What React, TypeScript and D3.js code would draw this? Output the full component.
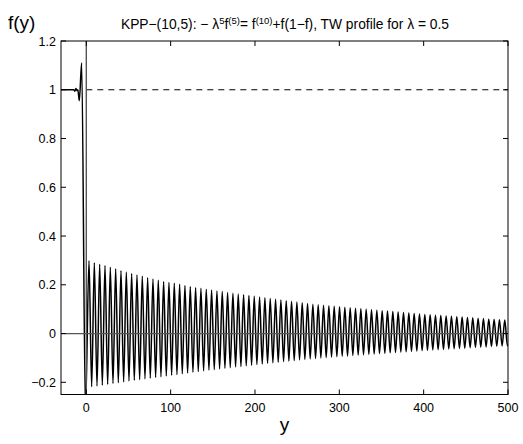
import React from "react";
import * as d3 from "d3";

// ---- data ----
const X_TICKS = [0, 100, 200, 300, 400, 500];
const Y_TICKS = [-0.2, 0, 0.2, 0.4, 0.6, 0.8, 1, 1.2];

// leading part of the profile (y < 0), points [y, f]
const leadY = [-30, -15, -13.6, -12.4, -11.2, -10, -8.3, -5.5, -1.0];
const leadF = [1, 1, 0.994, 1.005, 0.997, 1.0, 0.955, 1.11, -0.32];

// oscillating tail: crest and trough heights, one per oscillation
const firstCrestY = 3.2;
const oscPeriod = 6.32;
const crestF = [
  0.299, 0.29, 0.284, 0.279, 0.272, 0.266, 0.259, 0.252, 0.246, 0.24, 0.235,
  0.229, 0.224, 0.219, 0.214, 0.21, 0.206, 0.202, 0.197, 0.193, 0.189,
  0.186, 0.182, 0.179, 0.175, 0.172, 0.168, 0.165, 0.162, 0.159, 0.156, 0.153,
  0.15, 0.147, 0.144, 0.141, 0.138, 0.135, 0.132, 0.129, 0.126, 0.123, 0.12,
  0.118, 0.116, 0.114, 0.112, 0.11, 0.108, 0.106, 0.104, 0.102, 0.1, 0.098,
  0.096, 0.094, 0.092, 0.09, 0.088, 0.086, 0.084, 0.082, 0.08,
  0.078, 0.077, 0.075, 0.074, 0.072, 0.071, 0.069, 0.068, 0.066, 0.065, 0.063,
  0.062, 0.06, 0.059, 0.057, 0.056,
];
const troughF = [
  -0.218, -0.215, -0.212, -0.209, -0.205, -0.202, -0.199, -0.195, -0.192,
  -0.189, -0.186, -0.183, -0.18, -0.177, -0.174, -0.171, -0.168, -0.165,
  -0.162, -0.159, -0.156,
  -0.153, -0.15, -0.148, -0.145, -0.142, -0.14, -0.137, -0.135, -0.132, -0.13,
  -0.127, -0.125, -0.122, -0.12, -0.118, -0.115, -0.113, -0.111, -0.108,
  -0.106, -0.104, -0.102,
  -0.1, -0.098, -0.097, -0.095, -0.093, -0.092, -0.09, -0.088, -0.087, -0.085,
  -0.084, -0.082, -0.081, -0.079, -0.078, -0.076, -0.075, -0.073, -0.072,
  -0.07,
  -0.069, -0.067, -0.066, -0.065, -0.063, -0.062, -0.061, -0.06, -0.058,
  -0.057, -0.056, -0.055, -0.053, -0.052, -0.051, -0.05,
];
const endPoint = [500, -0.049];

// ---- layout ----
const W = 523;
const H = 444;
const L = 61;
const R = 508;
const T = 41;
const B = 394.5;
const FONT = "'Liberation Sans', Arial, Helvetica, sans-serif";

export default function App() {
  const x = d3.scaleLinear().domain([-30, 500]).range([L, R]);
  const y = d3.scaleLinear().domain([-0.25, 1.2]).range([B, T]);

  const pts: [number, number][] = [];
  leadY.forEach((v, i) => pts.push([v, leadF[i]]));
  crestF.forEach((c, k) => {
    const yc = firstCrestY + oscPeriod * k;
    pts.push([yc, c]);
    pts.push([yc + oscPeriod / 2, troughF[k]]);
  });
  pts.push([endPoint[0], endPoint[1]]);

  const line = d3
    .line<[number, number]>()
    .x((d) => x(d[0]))
    .y((d) => y(d[1]))
    .curve(d3.curveMonotoneX);

  const fmtY = (v: number) => {
    const s = d3.format("")(Math.round(v * 10) / 10);
    return s.replace("-", "\u2212");
  };

  const tick = 5;
  return (
    <svg
      width={W}
      height={H}
      style={{ position: "absolute", left: 0, top: 0, background: "#fff" }}
      fontFamily={FONT}
    >
      <rect x={0} y={0} width={W} height={H} fill="#fff" />
      <defs>
        <clipPath id="plotclip">
          <rect x={L} y={T} width={R - L} height={B - T} />
        </clipPath>
      </defs>
      <g clipPath="url(#plotclip)">
        <path d={line(pts) || ""} fill="none" stroke="#000" strokeWidth={1.5} />
        <line
          x1={x(0)}
          x2={x(500)}
          y1={y(1)}
          y2={y(1)}
          stroke="#000"
          strokeWidth={1}
          strokeDasharray="6,5"
        />
        <line x1={L} x2={R} y1={y(0)} y2={y(0)} stroke="#555" strokeWidth={1.3} />
        <line x1={x(0)} x2={x(0)} y1={T} y2={B} stroke="#555" strokeWidth={1.4} />
      </g>
      {/* axes box */}
      <rect x={L} y={T} width={R - L} height={B - T} fill="none" stroke="#000" strokeWidth={1} />
      {X_TICKS.map((t) => (
        <g key={"x" + t}>
          <line x1={x(t)} x2={x(t)} y1={B} y2={B - tick} stroke="#000" />
          <line x1={x(t)} x2={x(t)} y1={T} y2={T + tick} stroke="#000" />
          <text x={x(t)} y={412} textAnchor="middle" fontSize={12.5}>
            {String(t)}
          </text>
        </g>
      ))}
      {Y_TICKS.map((t) => (
        <g key={"y" + t}>
          <line x1={L} x2={L + tick} y1={y(t)} y2={y(t)} stroke="#000" />
          <line x1={R} x2={R - tick} y1={y(t)} y2={y(t)} stroke="#000" />
          <text x={56} y={y(t) + 4.5} textAnchor="end" fontSize={12.5}>
            {fmtY(t)}
          </text>
        </g>
      ))}
      <text x={(L + R) / 2} y={431} textAnchor="middle" fontSize={19}>
        y
      </text>
      <text x={8} y={29} fontSize={19}>
        f(y)
      </text>
      <text x={285} y={29} textAnchor="middle" fontSize={13.8}>
        {"KPP\u2212(10,5): \u2212 \u03bb"}
        <tspan dy={-5.5} fontSize={9.5}>5</tspan>
        <tspan dy={5.5}>f</tspan>
        <tspan dy={-5.5} fontSize={9.5}>(5)</tspan>
        <tspan dy={5.5}>{"= f"}</tspan>
        <tspan dy={-5.5} fontSize={9.5}>(10)</tspan>
        <tspan dy={5.5}>{"+f(1\u2212f), TW profile for \u03bb = 0.5"}</tspan>
      </text>
    </svg>
  );
}
